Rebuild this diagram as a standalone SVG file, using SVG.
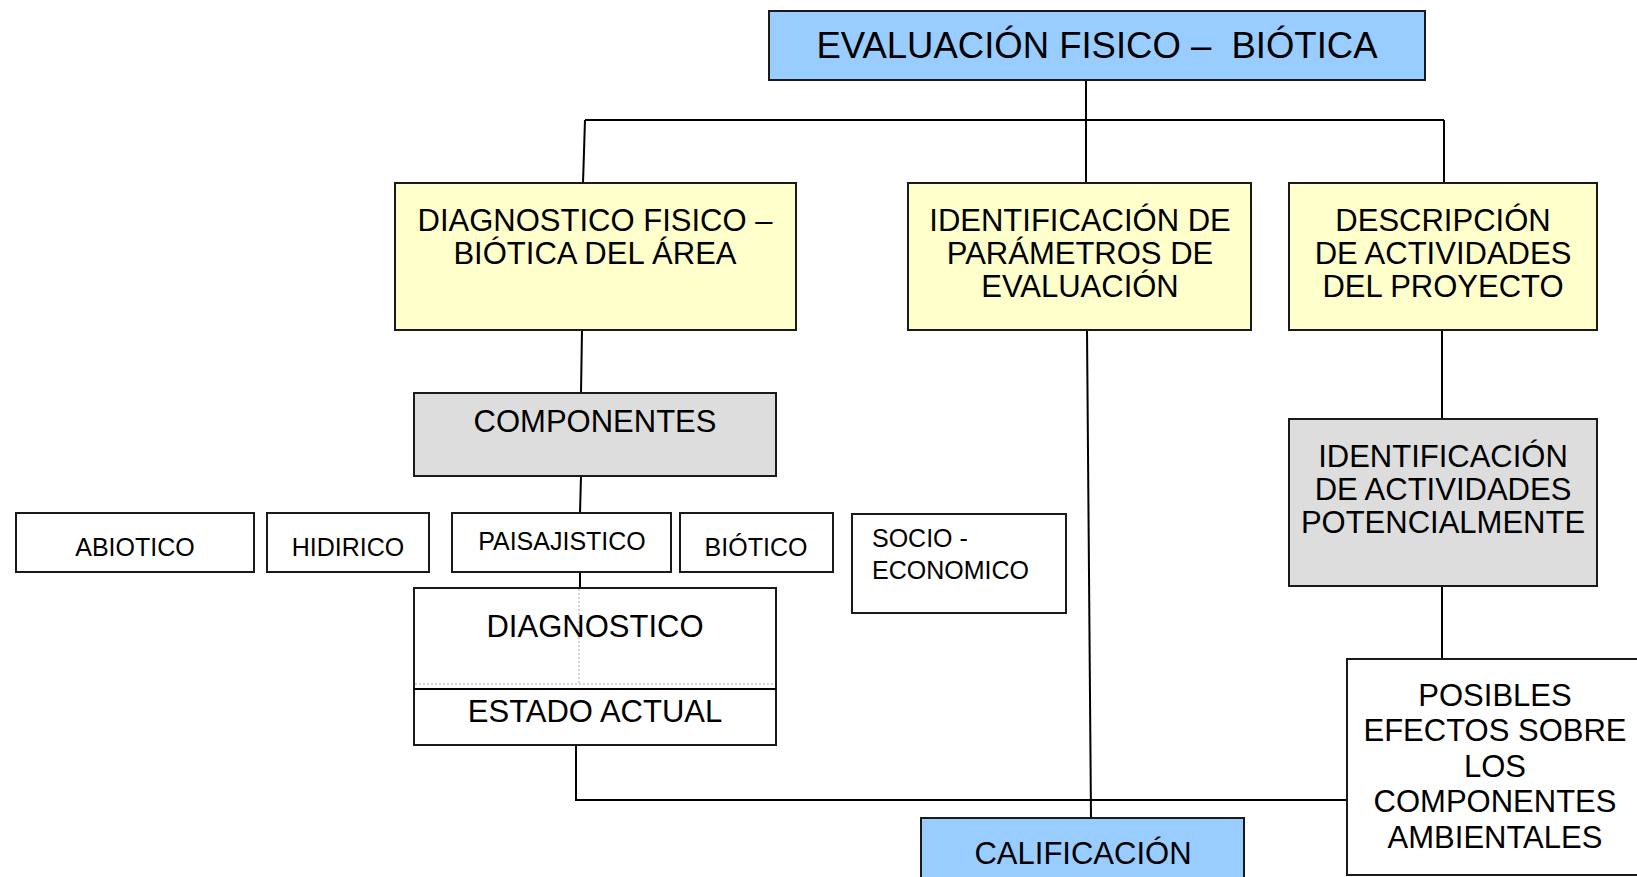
<svg xmlns="http://www.w3.org/2000/svg" width="1637" height="877" viewBox="0 0 1637 877">
<style>
.box{stroke:#1a1a1a;stroke-width:2}
.blue{fill:#99CCFF}
.yellow{fill:#FFFFCC}
.gray{fill:#DDDDDD}
.white{fill:#FFFFFF}
.t{font-family:"Liberation Sans",Arial,sans-serif;fill:#000;text-anchor:middle}
.l{font-size:31px}
.s{font-size:25px}
.st{text-anchor:start}
.conn{stroke:#000;stroke-width:2;fill:none}
.dot{stroke:#aaa;stroke-width:1;stroke-dasharray:2 2;fill:none}
</style>
<rect width="1637" height="877" fill="#fff"/>
<g id="connectors">
<line class="conn" x1="1086" y1="80" x2="1086" y2="183"/>
<line class="conn" x1="585" y1="120" x2="1444" y2="120"/>
<line class="conn" x1="585" y1="120" x2="583" y2="183"/>
<line class="conn" x1="1444" y1="120" x2="1444" y2="183"/>
<line class="conn" x1="582" y1="330" x2="581" y2="393"/>
<line class="conn" x1="581" y1="476" x2="580" y2="513"/>
<line class="conn" x1="580" y1="572" x2="580" y2="588"/>
<line class="conn" x1="1087" y1="330" x2="1091" y2="818"/>
<line class="conn" x1="1442" y1="330" x2="1442" y2="419"/>
<line class="conn" x1="1442" y1="586" x2="1442" y2="659"/>
<polyline class="conn" points="576,745 576,800 1347,800"/>
</g>
<g id="n-top">
<rect class="box blue" x="769" y="11" width="656" height="69"/>
<text class="t" x="1097" y="58" font-size="36" xml:space="preserve" style="white-space:pre" textLength="561" lengthAdjust="spacingAndGlyphs">EVALUACIÓN FISICO –  BIÓTICA</text>
</g>
<g id="n-diag-area">
<rect class="box yellow" x="395" y="183" width="401" height="147"/>
<text class="t l" x="595" y="231">DIAGNOSTICO FISICO –</text>
<text class="t l" x="595" y="264">BIÓTICA DEL ÁREA</text>
</g>
<g id="n-param">
<rect class="box yellow" x="908" y="183" width="343" height="147"/>
<text class="t l" x="1080" y="231">IDENTIFICACIÓN DE</text>
<text class="t l" x="1080" y="264">PARÁMETROS DE</text>
<text class="t l" x="1080" y="297">EVALUACIÓN</text>
</g>
<g id="n-desc">
<rect class="box yellow" x="1289" y="183" width="308" height="147"/>
<text class="t l" x="1443" y="231">DESCRIPCIÓN</text>
<text class="t l" x="1443" y="264">DE ACTIVIDADES</text>
<text class="t l" x="1443" y="297">DEL PROYECTO</text>
</g>
<g id="n-comp">
<rect class="box gray" x="414" y="393" width="362" height="83"/>
<text class="t l" x="595" y="432">COMPONENTES</text>
</g>
<g id="n-abiotico">
<rect class="box white" x="16" y="513" width="238" height="59"/>
<text class="t s" x="135" y="556">ABIOTICO</text>
</g>
<g id="n-hidirico">
<rect class="box white" x="267" y="513" width="162" height="59"/>
<text class="t s" x="348" y="556">HIDIRICO</text>
</g>
<g id="n-paisaj">
<rect class="box white" x="452" y="513" width="219" height="59"/>
<text class="t s" x="562" y="550">PAISAJISTICO</text>
</g>
<g id="n-biotico">
<rect class="box white" x="680" y="513" width="153" height="59"/>
<text class="t s" x="756" y="556">BIÓTICO</text>
</g>
<g id="n-socio">
<rect class="box white" x="852" y="514" width="214" height="99"/>
<text class="t s st" x="872" y="547">SOCIO -</text>
<text class="t s st" x="872" y="579">ECONOMICO</text>
</g>
<g id="n-diagnostico">
<rect class="box white" x="414" y="588" width="362" height="157"/>
<line class="dot" x1="579" y1="589" x2="579" y2="684"/>
<line class="dot" x1="415" y1="684" x2="775" y2="684"/>
<line class="conn" x1="414" y1="689" x2="776" y2="689"/>
<text class="t l" x="595" y="637">DIAGNOSTICO</text>
<text class="t l" x="595" y="722">ESTADO ACTUAL</text>
</g>
<g id="n-identif">
<rect class="box gray" x="1289" y="419" width="308" height="167"/>
<text class="t l" x="1443" y="467">IDENTIFICACIÓN</text>
<text class="t l" x="1443" y="500">DE ACTIVIDADES</text>
<text class="t l" x="1443" y="533">POTENCIALMENTE</text>
</g>
<g id="n-posibles">
<rect class="box white" x="1347" y="659" width="300" height="216"/>
<text class="t l" x="1495" y="706">POSIBLES</text>
<text class="t l" x="1495" y="741">EFECTOS SOBRE</text>
<text class="t l" x="1495" y="777">LOS</text>
<text class="t l" x="1495" y="812">COMPONENTES</text>
<text class="t l" x="1495" y="848">AMBIENTALES</text>
</g>
<g id="n-calif">
<rect class="box blue" x="921" y="818" width="323" height="70"/>
<text class="t l" x="1083" y="864">CALIFICACIÓN</text>
</g>
</svg>
